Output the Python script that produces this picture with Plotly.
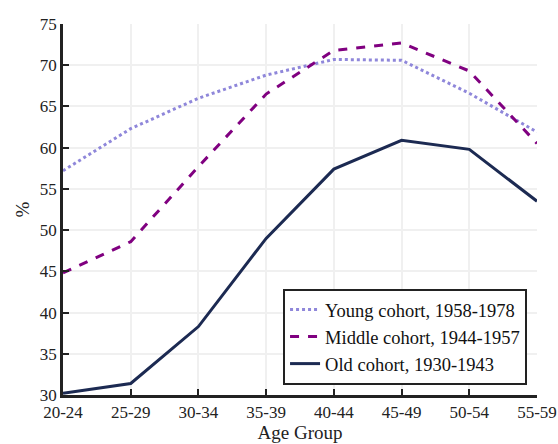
import plotly.graph_objects as go

age_groups = ["20-24", "25-29", "30-34", "35-39", "40-44", "45-49", "50-54", "55-59"]
young = [57.2, 62.3, 66.0, 68.8, 70.7, 70.6, 66.6, 61.9]
middle = [44.8, 48.6, 57.7, 66.5, 71.8, 72.7, 69.3, 60.5]
old = [30.2, 31.4, 38.3, 49.0, 57.4, 60.9, 59.8, 53.5]

names = ["Young cohort, 1958-1978", "Middle cohort, 1944-1957", "Old cohort, 1930-1943"]
colors = ["#8f87da", "#800080", "#1c2a52"]
dashes = ["dot", "dash", "solid"]

FONT = "Liberation Serif"

fig = go.Figure()
for name, vals, col, dash in zip(names, [young, middle, old], colors, dashes):
    fig.add_trace(go.Scatter(
        x=list(range(len(age_groups))), y=vals, name=name, mode="lines",
        line=dict(color=col, width=3, dash=dash),
    ))

fig.update_layout(
    width=558, height=444,
    margin=dict(l=63, r=21, t=24, b=49),
    paper_bgcolor="white", plot_bgcolor="white",
    font=dict(family=FONT, size=17, color="#222"),
    legend=dict(
        x=0.979, y=0.027, xanchor="right", yanchor="bottom",
        bgcolor="white", bordercolor="#222", borderwidth=2,
        font=dict(family=FONT, size=18.5, color="#111"),
        tracegroupgap=0,
    ),
)
fig.update_xaxes(
    range=[0, len(age_groups) - 1], automargin=False,
    tickmode="array", tickvals=list(range(len(age_groups))), ticktext=age_groups,
    showgrid=True, gridcolor="#f0f0f0", gridwidth=2,
    showline=True, linecolor="#222", linewidth=2.5,
    ticks="inside", ticklen=6, tickwidth=2, tickcolor="#222",
    title=dict(text="Age Group", font=dict(family=FONT, size=19), standoff=2),
    zeroline=False,
)
fig.update_yaxes(
    range=[30, 75], dtick=5, automargin=False,
    showgrid=True, gridcolor="#f0f0f0", gridwidth=2,
    showline=True, linecolor="#222", linewidth=2.5,
    ticks="inside", ticklen=6, tickwidth=2, tickcolor="#222",
    title=dict(text="%", font=dict(family=FONT, size=19), standoff=6),
    zeroline=False,
)

fig.write_html("out.html")
